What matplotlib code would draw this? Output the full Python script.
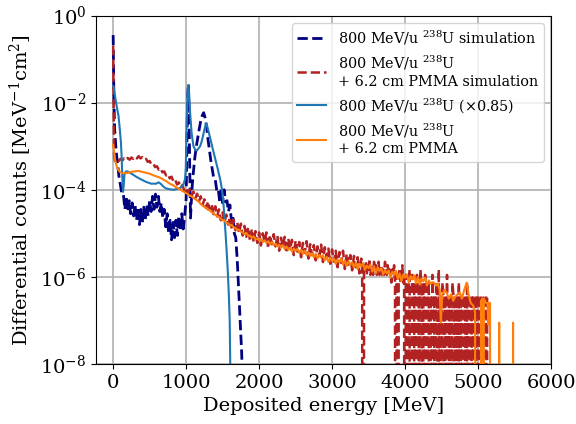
import numpy as np
import matplotlib
matplotlib.use("Agg")
import matplotlib.pyplot as plt

plt.rcParams['font.family'] = ['DejaVu Serif']
plt.rcParams['mathtext.fontset'] = 'dejavuserif'

ZERO = -99  # empty bin (log10 of zero counts -> drawn down to the bottom)

# ---- 800 MeV/u 238U simulation (navy dashed), log10 values ----
sim_u_energy = [0, 10, 20, 40, 60, 80, 100, 120,
                140, 160, 180, 200, 220, 240, 260, 280, 300, 320, 340, 360, 380, 400,
                420, 440, 460, 480, 500, 520, 540, 560, 580, 600, 620, 640, 660, 680,
                700, 720, 740, 760, 780, 800, 820, 840, 860, 880, 900, 920, 940, 960, 980,
                1000, 1010, 1020, 1030, 1040, 1050, 1060, 1070, 1080, 1090, 1100,
                1120, 1140, 1160, 1180, 1200, 1220, 1240, 1260, 1280, 1300, 1320, 1340,
                1360, 1380, 1400, 1420, 1440, 1460, 1480, 1500, 1520, 1540, 1560, 1580,
                1600, 1620, 1640, 1660, 1680, 1700, 1720, 1740, 1760, 1775, 1790]
sim_u_log = [-0.45, -1.9, -2.6, -3.1, -3.4, -3.7, -3.9, -4.1,
             -4.10, -4.45, -4.15, -4.50, -4.25, -4.55, -4.30, -4.60, -4.35, -4.70, -4.40, -4.80, -4.45, -4.75,
             -4.40, -4.70, -4.35, -4.60, -4.25, -4.50, -4.15, -4.45, -4.10, -4.40, -4.15, -4.50, -4.30, -4.65,
             -4.45, -4.85, -4.55, -5.00, -4.70, -5.15, -4.75, -5.10, -4.70, -5.05, -4.60, -4.95, -4.55, -4.90, -4.60,
             -4.2, -3.0, -2.0, -1.57, -2.3, -3.6, -4.65, -4.3, -4.0, -3.75, -3.58,
             -3.25, -3.0, -2.8, -2.6, -2.42, -2.3, -2.23, -2.35, -2.55, -2.85, -3.1, -3.35,
             -3.55, -3.75, -3.78, -4.02, -3.98, -4.28, -4.02, -4.3, -4.0, -4.28, -4.25, -4.5,
             -4.35, -4.7, -4.58, -5.0, -5.1, -5.6, -6.3, -7.0, -7.7, -8.5, ZERO]

# ---- 800 MeV/u 238U + 6.2 cm PMMA simulation (red dashed) ----
sim_pmma_start_energy = [0, 12]
sim_pmma_start_log = [-0.7, -3.2]
sim_pmma_bin = 25            # 25 ... 3400 MeV
sim_pmma_log = [
    -3.34, -3.30, -3.34, -3.29, -3.33, -3.28, -3.32, -3.27, -3.31, -3.26,
    -3.29, -3.24, -3.28, -3.23, -3.28, -3.25, -3.31, -3.29, -3.36, -3.34,
    -3.42, -3.40, -3.48, -3.46, -3.54, -3.51, -3.60, -3.58, -3.67, -3.64,
    -3.74, -3.70, -3.81, -3.77, -3.88, -3.83, -3.95, -3.89, -4.02, -3.96,
    -4.08, -3.99, -4.14, -4.04, -4.20, -4.09, -4.27, -4.15, -4.35, -4.22,
    -4.42, -4.27, -4.47, -4.33, -4.56, -4.38, -4.61, -4.45, -4.70, -4.52,
    -4.76, -4.57, -4.80, -4.63, -4.90, -4.68, -4.93, -4.74, -5.00, -4.78,
    -5.05, -4.83, -5.08, -4.86, -5.18, -4.90, -5.20, -4.95, -5.22, -4.98,
    -5.28, -5.00, -5.20, -4.98, -5.34, -5.04, -5.25, -5.02, -5.30, -5.06,
    -5.40, -5.10, -5.32, -5.08, -5.45, -5.12, -5.36, -5.15, -5.50, -5.17,
    -5.42, -5.20, -5.55, -5.22, -5.45, -5.18, -5.58, -5.25, -5.50, -5.27,
    -5.62, -5.30, -5.52, -5.26, -5.66, -5.32, -5.56, -5.35, -5.70, -5.37,
    -5.65, -5.40, -5.78, -5.43, -5.68, -5.40, -5.82, -5.47, -5.72, -5.50,
    -5.85, -5.52, -5.78, -5.55, -5.92, -5.58]
# high-energy tail in counts (finer bins, 3412.5 ... 5150 MeV)
sim_pmma_tail_start = 3412.5
sim_pmma_tail_bin = 12.5
sim_pmma_count_unit = 3.7e-7
sim_pmma_tail_counts = [
    4, 0, 5, 4, 6, 3, 5, 4, 7, 3, 5,
    4, 3, 6, 4, 5, 3, 4, 6, 3, 4,
    5, 3, 4, 3, 6, 4, 3, 5, 3, 4,
    3, 2, 4, 3, 5, 2, 0, 3, 0,
    3, 4, 2, 3, 5, 2, 3,
    0, 3, 1, 0, 2, 4, 0, 1, 3, 0,
    2, 0, 1, 3, 0, 2, 0, 4, 1, 0,
    2, 0, 3, 1, 0, 1, 2, 0, 1, 0,
    3, 0, 1, 0, 2, 1, 0, 4, 0, 1,
    0, 2, 1, 0, 1, 0, 3, 0, 1, 0,
    1, 0, 2, 1, 0, 1, 0, 1, 0, 2,
    0, 1, 0, 1, 1, 0, 1, 0, 2, 0,
    1, 1, 0, 1, 0, 1, 1, 0, 1, 0,
    1, 1, 0, 1, 1, 0, 1, 1, 0, 1,
    1, 0, 0]

# ---- 800 MeV/u 238U measured (x0.85) (blue solid) ----
meas_u_energy = [0, 15, 30, 50, 73, 90, 105, 115, 125, 135, 145, 155, 175, 200, 250,
                 315, 380, 452, 520, 590, 620, 650, 690, 726, 780, 830, 880, 930, 960,
                 985, 995, 1005, 1015, 1025, 1032, 1040, 1055, 1075, 1100, 1125, 1146,
                 1170, 1192, 1215, 1237, 1260, 1275, 1290, 1310, 1330, 1360, 1397, 1430,
                 1466, 1490, 1511, 1525, 1540, 1555, 1570, 1585, 1597, 1606, 1615]
meas_u_log = [-1.62, -1.7, -1.9, -2.1, -2.3, -2.6, -2.88, -3.2, -3.7, -4.05, -3.9, -3.65, -3.58, -3.58, -3.63,
              -3.7, -3.76, -3.82, -3.86, -3.86, -3.83, -3.86, -3.93, -3.97, -3.99, -4.0, -3.98, -3.95, -3.9,
              -3.75, -3.5, -2.7, -2.0, -1.62, -1.6, -1.75, -2.25, -2.7, -3.0, -3.08, -3.1,
              -3.05, -3.0, -2.88, -2.72, -2.55, -2.48, -2.55, -2.68, -2.82, -3.03, -3.28, -3.5,
              -3.76, -3.98, -4.3, -4.65, -5.0, -5.4, -5.85, -6.4, -7.0, -8.2, ZERO]

# ---- 800 MeV/u 238U + 6.2 cm PMMA measured (orange solid) ----
meas_pmma_bin = 25           # 0 ... 4400 MeV
meas_pmma_log = [
    -2.97, -3.30, -3.47, -3.56, -3.60, -3.62, -3.62, -3.62, -3.61, -3.60,
    -3.59, -3.58, -3.58, -3.57, -3.57, -3.58, -3.59, -3.60, -3.61, -3.62,
    -3.63, -3.65, -3.67, -3.68, -3.70, -3.71, -3.73, -3.75, -3.78, -3.80,
    -3.83, -3.86, -3.88, -3.90, -3.93, -3.95, -3.98, -4.00, -4.03, -4.05,
    -4.08, -4.10, -4.14, -4.15, -4.19, -4.21, -4.25, -4.27, -4.33, -4.36,
    -4.40, -4.41, -4.46, -4.47, -4.52, -4.53, -4.58, -4.60, -4.63, -4.67,
    -4.70, -4.70, -4.76, -4.77, -4.82, -4.81, -4.86, -4.88, -4.92, -4.92,
    -4.96, -4.98, -5.02, -4.99, -5.06, -5.05, -5.10, -5.07, -5.14, -5.12,
    -5.16, -5.13, -5.20, -5.16, -5.22, -5.18, -5.25, -5.20, -5.27, -5.24,
    -5.30, -5.26, -5.33, -5.27, -5.36, -5.30, -5.38, -5.33, -5.42, -5.35,
    -5.40, -5.36, -5.45, -5.38, -5.47, -5.40, -5.50, -5.44, -5.52, -5.46,
    -5.55, -5.47, -5.58, -5.50, -5.56, -5.50, -5.62, -5.54, -5.66, -5.56,
    -5.64, -5.58, -5.70, -5.60, -5.66, -5.58, -5.72, -5.62, -5.75, -5.64,
    -5.72, -5.66, -5.78, -5.68, -5.82, -5.70, -5.76, -5.68, -5.84, -5.74,
    -5.80, -5.72, -5.88, -5.76, -5.92, -5.78, -5.86, -5.80, -5.95, -5.84,
    -5.92, -5.85, -6.02, -5.88, -5.96, -5.86, -6.05, -5.92, -6.10, -5.95,
    -6.02, -5.94, -6.12, -5.98, -6.06, -5.96, -6.15, -6.00, -6.18, -6.04,
    -6.10, -6.02, -6.20, -6.08, -6.16, -6.12, -6.14]
meas_pmma_tail_energy = [4425, 4450, 4475, 4490, 4510, 4540, 4570, 4600, 4630, 4660, 4690,
                         4720, 4750, 4780, 4810, 4845, 4870, 4900, 4935, 4960, 4970, 5000,
                         5025, 5040, 5060, 5070, 5080, 5110, 5130, 5140, 5150, 5165, 5175,
                         5280, 5290, 5300, 5470, 5480, 5490]
meas_pmma_tail_log = [-6.2, -6.15, -6.3, -7.05, -6.4, -6.3, -6.36, -6.5, -6.4, -6.55, -6.45,
                      -6.4, -6.36, -6.5, -6.3, -6.13, -6.4, -6.6, -6.66, -6.82, ZERO, ZERO,
                      ZERO, -6.55, -6.5, ZERO, -6.5, -6.6, -6.6, -7.1, -6.6, -6.6, ZERO,
                      ZERO, -7.05, ZERO, ZERO, -7.05, ZERO]

labels = ['800 MeV/u $^{238}$U simulation',
          '800 MeV/u $^{238}$U\n+ 6.2 cm PMMA simulation',
          '800 MeV/u $^{238}$U (×0.85)',
          '800 MeV/u $^{238}$U\n+ 6.2 cm PMMA']

# ---- assemble ----
tail_counts = np.array(sim_pmma_tail_counts, dtype=float)
tail_energy = sim_pmma_tail_start + sim_pmma_tail_bin * np.arange(len(tail_counts))
tail_vals = np.where(tail_counts > 0, tail_counts * sim_pmma_count_unit, 1e-99)
sim_pmma_energy = np.concatenate([sim_pmma_start_energy,
                                  sim_pmma_bin * np.arange(1, len(sim_pmma_log) + 1),
                                  tail_energy])
sim_pmma_vals = np.concatenate([10.0 ** np.array(sim_pmma_start_log),
                                10.0 ** np.array(sim_pmma_log), tail_vals])
meas_pmma_energy = np.concatenate([meas_pmma_bin * np.arange(len(meas_pmma_log)),
                                   meas_pmma_tail_energy])
meas_pmma_vals = 10.0 ** np.concatenate([meas_pmma_log, meas_pmma_tail_log])

fig = plt.figure(figsize=(5.76, 4.24), dpi=100)
ax = fig.add_axes([0.1667, 0.1415, 0.7899, 0.8219])

ax.plot(sim_u_energy, 10.0 ** np.array(sim_u_log), color='navy', ls='--', lw=2.0, label=labels[0])
ax.plot(sim_pmma_energy, sim_pmma_vals, color='firebrick', ls='--', lw=1.8, label=labels[1])
ax.plot(meas_u_energy, 10.0 ** np.array(meas_u_log), color='#1f77b4', ls='-', lw=1.5, label=labels[2])
ax.plot(meas_pmma_energy, meas_pmma_vals, color='#ff7f0e', ls='-', lw=1.5, label=labels[3])

ax.set_yscale('log')
ax.set_ylim(1e-8, 1)
ax.set_xlim(-235, 6000)
ax.set_yticks([1e0, 1e-2, 1e-4, 1e-6, 1e-8])
ax.yaxis.set_minor_locator(matplotlib.ticker.NullLocator())
ax.set_xticks([0, 1000, 2000, 3000, 4000, 5000, 6000])
ax.tick_params(labelsize=14)
ax.grid(True, color='#b0b0b0', lw=1.2)
ax.set_xlabel('Deposited energy [MeV]', fontsize=14)
ax.set_ylabel('Differential counts [MeV$^{-1}$cm$^2$]', fontsize=14)
ax.legend(loc='upper right', fontsize=10.4)

fig.savefig('out.png', dpi=100)
